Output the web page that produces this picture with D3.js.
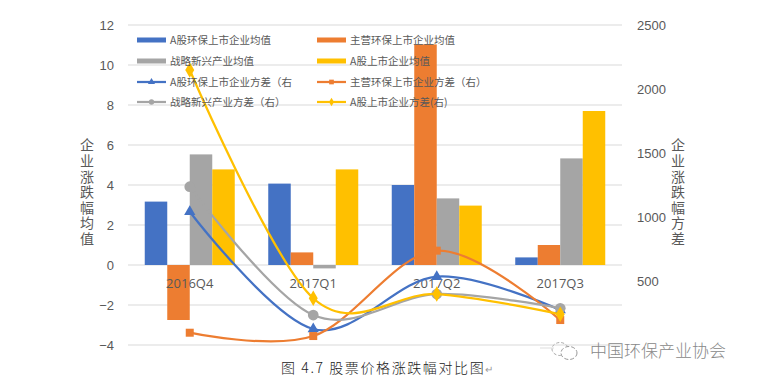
<!DOCTYPE html>
<html>
<head>
<meta charset="utf-8">
<script src="https://cdn.jsdelivr.net/npm/d3@7"></script>
<style>
  body { margin: 0; background: #fff; }
  svg { display: block; font-family: "Open Sans", "Noto Sans CJK SC", sans-serif; }
</style>
</head>
<body>
<svg id="chart" width="764" height="384"></svg>
<script>
// quarters
const quarters = ['2016Q4', '2017Q1', '2017Q2', '2017Q3']

// mean change (left axis), bars
const envMean   = [3.17, 4.07, 4.0, 0.38]    // A股环保上市企业均值
const mainMean  = [-2.75, 0.63, 11.03, 1.0]  // 主营环保上市企业均值
const sneMean   = [5.53, -0.17, 3.33, 5.33]  // 战略新兴产业均值
const allMean   = [4.78, 4.78, 2.97, 7.7]    // A股上市企业均值

// variance (right axis), lines
const envVar  = [1041, 125, 534, 273]
const mainVar = [96, 70, 737, 195]
const sneVar  = [1237, 234, 398, 287]
const allVar  = [2148, 365, 398, 240]

const leftTicks = [-4, -2, 0, 2, 4, 6, 8, 10, 12]
const rightTicks = [500, 1000, 1500, 2000, 2500]

const barNames = ['A股环保上市企业均值', '主营环保上市企业均值', '战略新兴产业均值', 'A股上市企业均值']
const lineNames = ['A股环保上市企业方差（右', '主营环保上市企业方差（右）', '战略新兴产业方差（右）', 'A股上市企业方差(右)']
const colors = ['#4472C4', '#ED7D31', '#A5A5A5', '#FFC000']
const symbols = [d3.symbolTriangle, d3.symbolSquare, d3.symbolCircle, d3.symbolDiamond]
const symSizes = [55, 64, 90, 70]

const svg = d3.select('#chart')
const plotL = 128, plotR = 622, plotT = 25, plotB = 345
const textColor = '#595959'

let x0 = d3.scaleBand().domain(quarters).range([plotL, plotR])
let x1 = d3.scaleBand().domain(d3.range(4)).range([0, 90])
let yL = d3.scaleLinear().domain([-4, 12]).range([plotB, plotT])
let yR = d3.scaleLinear().domain([0, 2500]).range([plotB, plotT])

// gridlines
svg.append('g')
  .selectAll('line')
  .data(leftTicks)
  .enter().append('line')
  .attr('x1', plotL).attr('x2', plotR)
  .attr('y1', d => yL(d)).attr('y2', d => yL(d))
  .attr('stroke', '#D9D9D9')
  .attr('stroke-width', 1)

// left ticks
let axL = svg.append('g')
  .attr('transform', `translate(${plotL - 8},0)`)
  .call(d3.axisLeft(yL).tickValues(leftTicks).tickSize(0).tickPadding(6))
axL.select('.domain').remove()
axL.selectAll('text').attr('fill', textColor).style('font-size', '13px')

// right ticks
let axR = svg.append('g')
  .attr('transform', `translate(${plotR + 9},0)`)
  .call(d3.axisRight(yR).tickValues(rightTicks).tickFormat(d3.format('d')).tickSize(0).tickPadding(6))
axR.select('.domain').remove()
axR.selectAll('text').attr('fill', textColor).style('font-size', '13px')

// axis titles, vertical upright text
function vTitle(str, x) {
  svg.append('text')
    .attr('x', x)
    .attr('y', 138)
    .attr('fill', textColor)
    .style('writing-mode', 'vertical-rl')
    .style('text-orientation', 'upright')
    .style('letter-spacing', '1.6px')
    .style('font-size', '14px')
    .style('font-family', '"Noto Sans CJK SC", sans-serif')
    .text(str)
}
vTitle('企业涨跌幅均值', 87)
vTitle('企业涨跌幅方差', 678)

// bars
const barData = [envMean, mainMean, sneMean, allMean]
barData.forEach((series, s) => {
  svg.append('g')
    .selectAll('rect')
    .data(series)
    .enter().append('rect')
    .attr('x', (d, i) => x0(quarters[i]) + 16.75 + x1(s))
    .attr('width', x1.bandwidth())
    .attr('y', d => yL(Math.max(0, d)))
    .attr('height', d => Math.abs(yL(d) - yL(0)))
    .attr('fill', colors[s])
})

// category labels
svg.append('g')
  .selectAll('text')
  .data(quarters)
  .enter().append('text')
  .attr('x', d => x0(d) + x0.bandwidth() / 2)
  .attr('y', 288)
  .attr('text-anchor', 'middle')
  .attr('fill', textColor)
  .style('font-size', '13px')
  .text(d => d)

// variance lines
const lineData = [envVar, mainVar, sneVar, allVar]
let line = d3.line()
  .x((d, i) => x0(quarters[i]) + x0.bandwidth() / 2)
  .y(d => yR(d))
  .curve(d3.curveCardinal.tension(0))

lineData.forEach((series, s) => {
  svg.append('path')
    .datum(series)
    .attr('d', line)
    .attr('fill', 'none')
    .attr('stroke', colors[s])
    .attr('stroke-width', 2.25)
  svg.append('g')
    .selectAll('path')
    .data(series)
    .enter().append('path')
    .attr('transform', (d, i) => `translate(${x0(quarters[i]) + x0.bandwidth() / 2},${yR(d)})`)
    .attr('d', d3.symbol().type(symbols[s]).size(symSizes[s]))
    .attr('fill', colors[s])
})

// legend
const legCols = [137, 317]
const legRows = [40, 61, 82, 102]
barNames.forEach((name, i) => {
  let gx = legCols[i % 2], gy = legRows[Math.floor(i / 2)]
  svg.append('rect')
    .attr('x', gx).attr('y', gy - 2.5)
    .attr('width', 29).attr('height', 5)
    .attr('fill', colors[i])
  svg.append('text')
    .attr('x', gx + 33).attr('y', gy + 4)
    .attr('fill', textColor)
    .style('font-size', '10.5px')
    .style('font-family', '"Noto Sans CJK SC", sans-serif')
    .text(name)
})
lineNames.forEach((name, i) => {
  let gx = legCols[i % 2], gy = legRows[2 + Math.floor(i / 2)]
  svg.append('line')
    .attr('x1', gx).attr('x2', gx + 29)
    .attr('y1', gy).attr('y2', gy)
    .attr('stroke', colors[i])
    .attr('stroke-width', 2.25)
  svg.append('path')
    .attr('transform', `translate(${gx + 14.5},${gy})`)
    .attr('d', d3.symbol().type(symbols[i]).size(22))
    .attr('fill', colors[i])
  svg.append('text')
    .attr('x', gx + 33).attr('y', gy + 4)
    .attr('fill', textColor)
    .style('font-size', '10.5px')
    .style('font-family', '"Noto Sans CJK SC", sans-serif')
    .text(name)
})

// caption
svg.append('text')
  .attr('x', 281).attr('y', 373)
  .attr('fill', '#222')
  .style('font-size', '14px')
  .style('letter-spacing', '1.6px')
  .style('font-family', '"Noto Sans CJK SC", sans-serif')
  .style('font-weight', 300)
  .text('图 4.7 股票价格涨跌幅对比图')
  .append('tspan')
  .attr('fill', '#999')
  .style('font-size', '10px')
  .text('↵')

// watermark
let wm = svg.append('g').attr('transform', 'translate(560,351)')
wm.append('line')
  .attr('x1', -20).attr('x2', -6).attr('y1', -3).attr('y2', -3)
  .attr('stroke', '#ddd')
wm.append('ellipse')
  .attr('cx', 0).attr('cy', -2).attr('rx', 8).attr('ry', 6.5)
  .attr('fill', 'none').attr('stroke', '#aaa').attr('stroke-dasharray', '3,2')
wm.append('ellipse')
  .attr('cx', 9).attr('cy', 2).attr('rx', 8).attr('ry', 6.5)
  .attr('fill', '#fff').attr('stroke', '#999').attr('stroke-dasharray', '4,2')
wm.append('text')
  .attr('x', 30).attr('y', 6)
  .attr('fill', '#888')
  .style('font-size', '17px')
  .style('font-family', '"Noto Sans CJK SC", sans-serif')
  .style('font-weight', 300)
  .text('中国环保产业协会')
</script>
</body>
</html>
